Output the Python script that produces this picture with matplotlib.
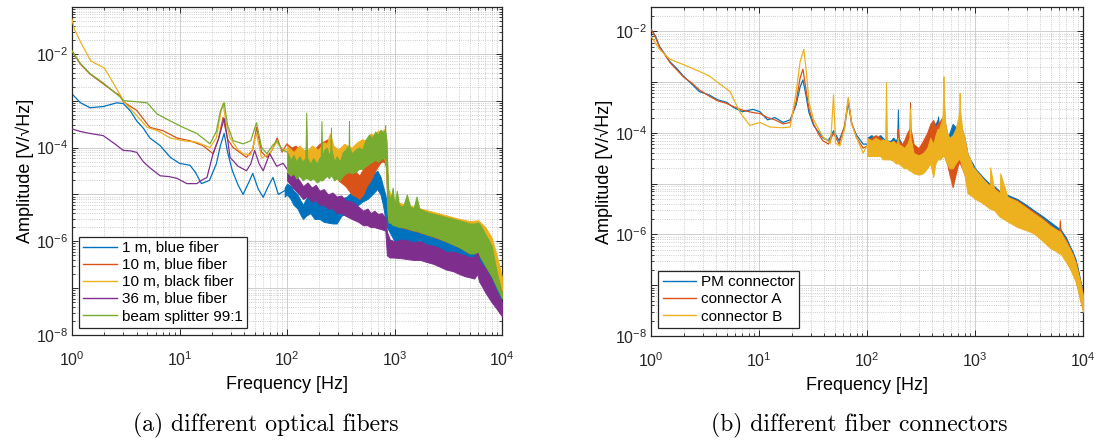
import numpy as np
import matplotlib
matplotlib.use('Agg')
import matplotlib.pyplot as plt
from matplotlib.ticker import LogLocator, FuncFormatter, NullFormatter

plt.rcParams['font.family'] = ['Liberation Sans', 'DejaVu Sans']
plt.rcParams['mathtext.fontset'] = 'custom'
plt.rcParams['mathtext.rm'] = 'Liberation Sans'
plt.rcParams['mathtext.it'] = 'Liberation Sans:italic'
plt.rcParams['mathtext.bf'] = 'Liberation Sans:bold'

# ---------------- (a) optical fibers ----------------
# below ~100 Hz each spectrum is a single trace (Hz, V/sqrt(Hz)),
# above it the noise is drawn as a band between lower and upper envelope
blue_f = [1, 1.2, 1.47, 1.95, 2.6, 3.0, 3.5, 4.0, 4.6, 5.3, 6.6, 8.2, 10, 12.5, 14, 16, 19, 22, 24, 26, 28, 31, 35, 39, 44, 48, 54, 60, 67, 74, 83, 95]
blue_amp = [1.4e-3, 9e-4, 7.1e-4, 7.5e-4, 9e-4, 8.7e-4, 6e-4, 3.7e-4, 2.6e-4, 1.6e-4, 1.1e-4, 6.2e-5, 4.6e-5, 4.2e-5, 3e-5, 1.7e-5, 2e-5, 4.5e-5, 1.1e-4, 2e-4, 8e-5, 3.2e-5, 1.6e-5, 1e-5, 1.8e-5, 2.8e-5, 1.3e-5, 8.7e-6, 1.5e-5, 2.3e-5, 1e-5, 1.2e-5]
blue_bf = [95, 100, 108, 115, 125, 135, 141, 150, 165, 180, 200, 220, 240, 265, 290, 320, 360, 410, 460, 500, 560, 620, 690, 740, 780, 820, 850, 1000, 1300, 2000, 3000, 5000, 6000, 8000, 10000]
blue_lo = [9e-6, 1e-5, 8e-6, 6e-6, 5e-6, 3.5e-6, 3e-6, 3.5e-6, 4e-6, 3e-6, 3e-6, 2.6e-6, 2.5e-6, 2.4e-6, 2.4e-6, 3.5e-6, 4e-6, 5e-6, 6e-6, 7e-6, 8e-6, 1e-5, 1.3e-5, 1e-5, 6e-6, 3e-6, 2e-6, 1e-6, 8e-7, 6e-7, 4.5e-7, 3e-7, 2.5e-7, 1.2e-7, 3e-8]
blue_hi = [1.4e-5, 1.7e-5, 1.5e-5, 1.2e-5, 1e-5, 7e-6, 6e-6, 8e-6, 1e-5, 7e-6, 8e-6, 6e-6, 6.5e-6, 5e-6, 4.6e-6, 8e-6, 9e-6, 1.2e-5, 1.4e-5, 1.8e-5, 2.2e-5, 2.6e-5, 3.2e-5, 2.4e-5, 1.5e-5, 1e-5, 6e-6, 3e-6, 2.5e-6, 1.8e-6, 1.3e-6, 9e-7, 8e-7, 4e-7, 1e-7]

orange_f = [1, 1.2, 1.47, 1.95, 2.5, 2.8, 3.0, 4.0, 5.3, 7, 9.5, 12.5, 16.5, 20.5, 23, 25.4, 28, 31.5, 36, 42, 48, 52, 58, 65, 73, 81, 90, 100]
orange_amp = [1.15e-2, 6e-3, 3.7e-3, 2.3e-3, 1.5e-3, 1.3e-3, 9.5e-4, 6.2e-4, 2.7e-4, 2.3e-4, 1.6e-4, 1.4e-4, 1.1e-4, 7.4e-5, 1.5e-4, 4.4e-4, 1.5e-4, 1e-4, 8e-5, 6.2e-5, 9e-5, 2.7e-4, 8e-5, 6.2e-5, 9e-5, 1.6e-4, 8e-5, 1.2e-4]
orange_bf = [100, 110, 120, 135, 150, 170, 200, 225, 250, 275, 300, 350, 400, 440, 470, 510, 550, 600, 650, 700, 750, 800, 830, 870, 1000, 1500, 2000, 3000, 4000, 5000, 6000, 7000, 8000, 9000, 10000]
orange_lo = [5e-5, 4e-5, 4e-5, 3.5e-5, 3e-5, 3e-5, 3e-5, 3.5e-5, 4e-5, 3e-5, 2e-5, 1.5e-5, 1e-5, 9e-6, 8e-6, 1e-5, 1.5e-5, 2e-5, 3e-5, 4e-5, 5e-5, 5e-5, 4e-5, 3e-6, 2.2e-6, 1.7e-6, 1.4e-6, 1e-6, 7.5e-7, 5.5e-7, 6e-7, 3e-7, 1.8e-7, 1.1e-7, 7e-8]
orange_hi = [1.2e-4, 1e-4, 1.1e-4, 8e-5, 9e-5, 8e-5, 1.2e-4, 1.4e-4, 1.6e-4, 9e-5, 6e-5, 5e-5, 4e-5, 3e-5, 2.5e-5, 3.5e-5, 5e-5, 7e-5, 1e-4, 1.3e-4, 1.5e-4, 1.4e-4, 1.2e-4, 1.2e-5, 6e-6, 5e-6, 4.2e-6, 3.3e-6, 2.8e-6, 2.4e-6, 2.5e-6, 1.4e-6, 8e-7, 2.5e-7, 1e-7]

yellow_f = [1, 1.05, 1.15, 1.25, 1.5, 2.0, 2.5, 3.1, 4.0, 5.0, 6.2, 8.2, 10.8, 14.5, 19.2, 22, 24, 25.4, 27, 29.5, 35, 39, 46, 52, 58, 69, 80, 92, 100]
yellow_amp = [5.5e-2, 3.4e-2, 2.2e-2, 1.5e-2, 7e-3, 5e-3, 2.1e-3, 9e-4, 4.8e-4, 2.7e-4, 2.3e-4, 1.6e-4, 1.4e-4, 1.3e-4, 1e-4, 1.6e-4, 5e-4, 8.7e-4, 3.5e-4, 1.6e-4, 9e-5, 7.4e-5, 7e-5, 2e-4, 6e-5, 7.4e-5, 1.3e-4, 8.7e-5, 9e-5]
yellow_bf = [100, 115, 130, 150, 170, 195, 220, 235, 250, 270, 300, 340, 400, 450, 500, 550, 600, 650, 700, 750, 800, 840, 870, 1000, 1500, 2000, 3000, 4000, 5000, 6000, 7000, 8000, 9000, 10000]
yellow_lo = [4e-5, 3.5e-5, 3e-5, 3e-5, 3e-5, 3e-5, 3e-5, 3.5e-5, 3.5e-5, 3e-5, 3e-5, 3e-5, 3e-5, 3.5e-5, 4e-5, 4.5e-5, 5e-5, 5.5e-5, 6e-5, 6e-5, 6e-5, 4e-5, 3e-6, 2.4e-6, 1.8e-6, 1.5e-6, 1.1e-6, 8e-7, 6e-7, 6.5e-7, 4e-7, 2.5e-7, 1.5e-7, 9e-8]
yellow_hi = [1.1e-4, 8e-5, 1.1e-4, 8e-5, 1.1e-4, 9e-5, 1.3e-4, 1.2e-4, 2e-4, 1.1e-4, 9e-5, 1.2e-4, 1e-4, 1.3e-4, 1.5e-4, 1.4e-4, 2e-4, 1.8e-4, 2.3e-4, 2.1e-4, 2.5e-4, 1.5e-4, 1.3e-5, 7e-6, 5.5e-6, 4.6e-6, 3.6e-6, 3e-6, 2.7e-6, 2.8e-6, 2e-6, 1.2e-6, 4.6e-7, 1.7e-7]

purple_f = [1, 1.2, 1.47, 1.95, 2.5, 3.0, 3.5, 4.0, 4.6, 5.3, 6.6, 8, 9.5, 11.7, 14.5, 16, 18, 20.5, 23, 26, 28, 29.5, 35, 42, 46, 50, 55, 60, 69, 80, 92, 100]
purple_amp = [2.5e-4, 2.2e-4, 2e-4, 1.8e-4, 1.2e-4, 8.7e-5, 8.5e-5, 7.9e-5, 5e-5, 3.7e-5, 2.5e-5, 2.4e-5, 2.2e-5, 1.7e-5, 1.7e-5, 2e-5, 2.3e-5, 7.4e-5, 1.5e-4, 4.2e-4, 1.5e-4, 6.2e-5, 4e-5, 3.2e-5, 4.5e-5, 8.7e-5, 4.5e-5, 3.2e-5, 7.4e-5, 4e-5, 4.6e-5, 3.5e-5]
purple_bf = [100, 110, 120, 130, 141, 155, 170, 185, 200, 220, 240, 265, 290, 320, 350, 400, 460, 510, 560, 600, 650, 700, 760, 820, 850, 900, 1000, 1200, 1500, 1730, 2000, 2300, 2700, 3000, 3500, 4000, 4500, 5000, 5500, 5900, 6100, 6500, 7000, 8000, 9000, 10000]
purple_lo = [2e-5, 1.5e-5, 1.2e-5, 1e-5, 8e-6, 9e-6, 7e-6, 7.5e-6, 6e-6, 6e-6, 5e-6, 5e-6, 4e-6, 4e-6, 3.5e-6, 3e-6, 2.6e-6, 2.2e-6, 2.2e-6, 2e-6, 2e-6, 1.9e-6, 1.8e-6, 1.7e-6, 5e-7, 4.5e-7, 4.5e-7, 4.3e-7, 4e-7, 4e-7, 3.6e-7, 3.3e-7, 2.8e-7, 2.5e-7, 2.3e-7, 2e-7, 1.8e-7, 1.7e-7, 1.6e-7, 2e-7, 1.4e-7, 1.1e-7, 8e-8, 5e-8, 3.5e-8, 2.5e-8]
purple_hi = [4e-5, 3e-5, 2.6e-5, 2e-5, 1.5e-5, 1.8e-5, 1.4e-5, 1.6e-5, 1.2e-5, 1.3e-5, 1e-5, 1.1e-5, 9e-6, 9.5e-6, 7.5e-6, 7e-6, 5.5e-6, 4.5e-6, 5e-6, 4e-6, 4.5e-6, 3.8e-6, 4e-6, 3.2e-6, 1.6e-6, 1.1e-6, 1e-6, 1.1e-6, 9.5e-7, 1e-6, 8.5e-7, 8e-7, 7e-7, 6e-7, 6e-7, 5.5e-7, 5e-7, 4.6e-7, 4.6e-7, 7e-7, 4e-7, 3.2e-7, 2.6e-7, 1.5e-7, 8e-8, 5e-8]

green_f = [1, 1.2, 1.47, 1.95, 2.5, 2.8, 3.0, 4.0, 5.0, 6.2, 8.2, 10.8, 14.5, 19.2, 22, 24, 26, 28, 31.5, 35, 39, 46, 52, 58, 65, 73, 81, 90, 100]
green_amp = [1.15e-2, 6.2e-3, 3.8e-3, 2.4e-3, 1.5e-3, 1.2e-3, 1e-3, 9.5e-4, 9e-4, 5.2e-4, 3.7e-4, 2.7e-4, 2e-4, 1.2e-4, 2.2e-4, 6e-4, 9.1e-4, 3e-4, 1.4e-4, 1.3e-4, 1.2e-4, 1.4e-4, 3.4e-4, 1e-4, 7.4e-5, 1.1e-4, 1.4e-4, 9e-5, 8e-5]
green_bf = [100, 108, 115, 122, 130, 140, 148, 151, 154, 165, 175, 190, 200, 206, 209, 212, 222, 235, 245, 253, 256, 259, 275, 290, 310, 330, 350, 374, 377, 380, 400, 430, 470, 500, 540, 580, 620, 660, 700, 740, 780, 815, 818, 821, 840, 860, 880, 920, 960, 1000, 1050, 1100, 1200, 1300, 1400, 1500, 1600, 1700, 2000, 2500, 3000, 4000, 5000, 5500, 6000, 6300, 7000, 8000, 9000, 10000]
green_lo = [3e-5, 2.5e-5, 2.8e-5, 2.2e-5, 2.5e-5, 2e-5, 2.2e-5, 2.2e-5, 2.2e-5, 2e-5, 2.2e-5, 1.8e-5, 2e-5, 2e-5, 2e-5, 2e-5, 2.2e-5, 2.5e-5, 2.2e-5, 2.5e-5, 2.5e-5, 2.5e-5, 2e-5, 2.2e-5, 2e-5, 2.5e-5, 2.8e-5, 3e-5, 3e-5, 3e-5, 2.8e-5, 3e-5, 3.5e-5, 3.5e-5, 4e-5, 4.5e-5, 5e-5, 5.5e-5, 5e-5, 5.5e-5, 6e-5, 6e-5, 6e-5, 5e-5, 3e-5, 4e-6, 2.5e-6, 2.5e-6, 2.2e-6, 2.2e-6, 2.1e-6, 2e-6, 2e-6, 1.9e-6, 1.8e-6, 1.7e-6, 1.7e-6, 1.6e-6, 1.4e-6, 1.2e-6, 1e-6, 7.5e-7, 5.5e-7, 5.5e-7, 6e-7, 4.5e-7, 3e-7, 1.8e-7, 1e-7, 6e-8]
green_hi = [8e-5, 5.5e-5, 7e-5, 5e-5, 6.5e-5, 5e-5, 6e-5, 5.6e-4, 6e-5, 4.5e-5, 6e-5, 4.5e-5, 6e-5, 6.5e-5, 3.7e-4, 6.5e-5, 9e-5, 1e-4, 6.5e-5, 9e-5, 2.7e-4, 9e-5, 5e-5, 6.5e-5, 5e-5, 8e-5, 9e-5, 1.1e-4, 3.7e-4, 1e-4, 7.5e-5, 9e-5, 1e-4, 9e-5, 1.5e-4, 1.9e-4, 1.6e-4, 2.2e-4, 1.9e-4, 2.4e-4, 2.1e-4, 2.4e-4, 3e-4, 2.3e-4, 1.4e-4, 3e-5, 1e-5, 8e-6, 1.4e-5, 6e-6, 1.2e-5, 6e-6, 5.5e-6, 1e-5, 5.5e-6, 5e-6, 9e-6, 5e-6, 4.2e-6, 3.7e-6, 3.3e-6, 2.8e-6, 2.4e-6, 2.4e-6, 2.5e-6, 2.2e-6, 1.4e-6, 8e-7, 2e-7, 8e-8]

fiber_labels = ['1 m, blue fiber', '10 m, blue fiber', '10 m, black fiber', '36 m, blue fiber', 'beam splitter 99:1']

# ---------------- (b) fiber connectors ----------------
pm_f = [1, 1.1, 1.2, 1.35, 1.5, 1.75, 2.0, 2.4, 2.8, 3.5, 4.1, 5, 5.75, 7, 8.8, 10.2, 12, 14, 16.7, 19.4, 22, 24, 25.5, 27, 29, 32, 36, 39, 44, 49, 55, 62, 67, 72, 80, 92, 100]
pm_amp = [1.1e-2, 8e-3, 5e-3, 3.5e-3, 2.5e-3, 1.8e-3, 1.3e-3, 9e-4, 6.5e-4, 5.5e-4, 4.5e-4, 4e-4, 3.2e-4, 2.6e-4, 2.9e-4, 2.6e-4, 1.8e-4, 2e-4, 1.6e-4, 1.8e-4, 3.5e-4, 8e-4, 1.1e-3, 6e-4, 2.5e-4, 1.4e-4, 1e-4, 8e-5, 7e-5, 1.1e-4, 7e-5, 1.3e-4, 4e-4, 1.5e-4, 9e-5, 6e-5, 6e-5]
conA_amp = [1.1e-2, 7.5e-3, 4.8e-3, 3.4e-3, 2.4e-3, 1.7e-3, 1.25e-3, 9.5e-4, 7e-4, 5.2e-4, 4.3e-4, 3.8e-4, 3.3e-4, 2.8e-4, 2.5e-4, 2.4e-4, 2e-4, 1.8e-4, 1.5e-4, 1.6e-4, 4e-4, 1.2e-3, 1.8e-3, 8e-4, 3e-4, 1.5e-4, 9e-5, 7e-5, 6e-5, 1e-4, 6e-5, 1.4e-4, 4.5e-4, 1.6e-4, 8e-5, 5e-5, 5.5e-5]
conB_f = [1, 1.2, 1.5, 2.0, 2.84, 3.5, 4.1, 5.4, 6.0, 6.7, 8.2, 10.2, 12.6, 16.7, 19.4, 22, 24, 26, 27.5, 29, 32, 39, 46, 49, 51, 56, 62, 67, 72, 80, 92, 100]
conB_amp = [8e-3, 4.4e-3, 2.8e-3, 2.2e-3, 1.6e-3, 1.3e-3, 1e-3, 6.5e-4, 4e-4, 2.5e-4, 1.4e-4, 1.6e-4, 1.3e-4, 1.26e-4, 1.3e-4, 6e-4, 2.5e-3, 4.4e-3, 1.5e-3, 4e-4, 1.8e-4, 8.3e-5, 6.3e-5, 5.6e-4, 6.3e-5, 5.5e-5, 1.2e-4, 5e-4, 1.5e-4, 8e-5, 4e-5, 5.5e-5]

band_f = [100, 110, 120, 132, 140, 147, 150, 153, 165, 175,
          185, 190, 193, 196, 210, 220, 235, 247, 250, 253,
          270, 300, 330, 360, 385, 410, 430, 450, 455, 460,
          480, 500, 505, 510, 515, 530, 550, 580, 620, 660,
          700, 715, 720, 725, 760, 800, 850, 900, 950, 1000,
          1100, 1200, 1300, 1370, 1380, 1500, 1700, 1710, 2000, 2450,
          3000, 3500, 4200, 4900, 5500, 6000, 6100, 6200, 7000, 7500,
          8000, 8500, 9000, 9400, 10000]
pm_lo = [4e-5, 4.5e-5, 4e-5, 4.5e-5, 4e-5, 4e-5, 4e-5, 4e-5, 3.5e-5, 3.5e-5,
         3e-5, 3.5e-5, 4e-5, 3.5e-5, 2.8e-5, 2.5e-5, 2.5e-5, 2.2e-5, 2.2e-5, 2.2e-5,
         2e-5, 2e-5, 2.2e-5, 3e-5, 3.5e-5, 4e-5, 4.5e-5, 5e-5, 5e-5, 5e-5,
         4.5e-5, 4.5e-5, 4.5e-5, 4.5e-5, 4.5e-5, 3.5e-5, 2.5e-5, 3e-5, 4e-5, 3.5e-5,
         3e-5, 3e-5, 3e-5, 3e-5, 2.5e-5, 2e-5, 1.2e-5, 1e-5, 8e-6, 7e-6,
         6e-6, 5e-6, 4.5e-6, 4e-6, 4e-6, 3.8e-6, 3e-6, 3e-6, 2.3e-6, 1.8e-6,
         1.4e-6, 1.2e-6, 9e-7, 7e-7, 6e-7, 5e-7, 5e-7, 5e-7, 3.5e-7, 2.6e-7,
         2e-7, 1.4e-7, 9e-8, 6e-8, 3.5e-8]
pm_hi = [8e-5, 9e-5, 7.5e-5, 9e-5, 8e-5, 7e-5, 8e-5, 7e-5, 7e-5, 8e-5,
         7e-5, 8e-5, 2.9e-4, 8e-5, 6e-5, 6e-5, 5.5e-5, 5e-5, 5.5e-5, 5e-5,
         5e-5, 4.5e-5, 6e-5, 9e-5, 1.3e-4, 1.6e-4, 1.5e-4, 1.8e-4, 2.1e-4, 1.6e-4,
         1.5e-4, 1.5e-4, 1.6e-4, 1.5e-4, 1.4e-4, 1.2e-4, 6e-5, 1e-4, 1.5e-4, 1.3e-4,
         1.4e-4, 1.5e-4, 1.5e-4, 1.4e-4, 1.1e-4, 8e-5, 4e-5, 3e-5, 2.5e-5, 2e-5,
         1.6e-5, 1.3e-5, 1.1e-5, 1e-5, 1e-5, 9e-6, 7e-6, 7e-6, 6e-6, 5e-6,
         3.8e-6, 3e-6, 2.3e-6, 1.8e-6, 1.5e-6, 1.3e-6, 1.3e-6, 1.25e-6, 8.5e-7, 6e-7,
         4.6e-7, 3.3e-7, 2e-7, 1.3e-7, 7e-8]
conA_lo = [3.5e-5, 4e-5, 3.5e-5, 4e-5, 3.5e-5, 3.5e-5, 3.5e-5, 3.5e-5, 3e-5, 3e-5,
           3e-5, 3e-5, 3e-5, 3e-5, 2.5e-5, 2.5e-5, 2.5e-5, 2.5e-5, 3e-5, 2.5e-5,
           2e-5, 1.8e-5, 2e-5, 3e-5, 3e-5, 3.5e-5, 3.5e-5, 4e-5, 4e-5, 4e-5,
           4e-5, 4e-5, 4e-5, 4e-5, 4e-5, 3e-5, 2.5e-5, 1.5e-5, 8.5e-6, 1.5e-5,
           2.5e-5, 2.5e-5, 2.5e-5, 2.5e-5, 2e-5, 1.5e-5, 8e-6, 7e-6, 6e-6, 5.5e-6,
           5e-6, 4e-6, 3.8e-6, 3.5e-6, 3.5e-6, 3.2e-6, 2.6e-6, 2.6e-6, 2e-6, 1.6e-6,
           1.3e-6, 1.1e-6, 8e-7, 6e-7, 5e-7, 4.5e-7, 4.5e-7, 4.5e-7, 3e-7, 2.3e-7,
           1.8e-7, 1.3e-7, 8e-8, 5.5e-8, 3.2e-8]
conA_hi = [7e-5, 8e-5, 9e-5, 8e-5, 7e-5, 7e-5, 8e-5, 7e-5, 6.5e-5, 7e-5,
           6.5e-5, 7e-5, 1.2e-4, 7e-5, 6e-5, 7e-5, 1e-4, 1.2e-4, 4e-4, 1.2e-4,
           6e-5, 5e-5, 7e-5, 1e-4, 1.5e-4, 1.8e-4, 1.3e-4, 1.5e-4, 1.6e-4, 1.5e-4,
           1.8e-4, 2e-4, 2.2e-4, 2.5e-4, 2e-4, 1.5e-4, 1e-4, 6e-5, 4e-5, 8e-5,
           1.4e-4, 1.5e-4, 1.5e-4, 1.4e-4, 1e-4, 7e-5, 3.5e-5, 2.5e-5, 2e-5, 1.8e-5,
           1.5e-5, 1.2e-5, 1e-5, 9e-6, 9e-6, 8.5e-6, 6.5e-6, 6.5e-6, 5.5e-6, 4.7e-6,
           3.5e-6, 2.8e-6, 2.1e-6, 1.6e-6, 1.3e-6, 1.2e-6, 1.9e-6, 1.15e-6, 7.5e-7, 5.5e-7,
           4.2e-7, 3e-7, 1.8e-7, 1.2e-7, 6.5e-8]
conB_lo = [3.5e-5, 3.5e-5, 3.5e-5, 3.5e-5, 3e-5, 3e-5, 3e-5, 3e-5, 3e-5, 2.8e-5,
           2.5e-5, 2.5e-5, 2.5e-5, 2.5e-5, 2.2e-5, 2e-5, 2e-5, 1.8e-5, 1.8e-5, 1.8e-5,
           1.6e-5, 1.5e-5, 1.6e-5, 2e-5, 2.5e-5, 1.35e-5, 2.5e-5, 3e-5, 3e-5, 3e-5,
           3e-5, 3.5e-5, 3.5e-5, 4e-5, 3.5e-5, 3e-5, 2.5e-5, 2e-5, 2e-5, 2.5e-5,
           3e-5, 3e-5, 3e-5, 3e-5, 2e-5, 1.5e-5, 6.5e-6, 6e-6, 5.5e-6, 5e-6,
           4.5e-6, 4e-6, 3.5e-6, 3.2e-6, 3.2e-6, 3e-6, 2.2e-6, 2.2e-6, 1.8e-6, 1.4e-6,
           1.2e-6, 1.05e-6, 7.5e-7, 5.5e-7, 4.8e-7, 4.2e-7, 4.2e-7, 4.2e-7, 2.8e-7, 2.2e-7,
           1.6e-7, 1.2e-7, 7.5e-8, 5e-8, 3e-8]
conB_hi = [8e-5, 7e-5, 8e-5, 7e-5, 7.5e-5, 7e-5, 1e-3, 7e-5, 6.5e-5, 7e-5,
           6e-5, 6.5e-5, 8e-5, 6e-5, 5.5e-5, 5e-5, 6e-5, 8e-5, 3e-4, 8e-5,
           4e-5, 3.6e-5, 4e-5, 5e-5, 8e-5, 6e-5, 9e-5, 1.2e-4, 1.2e-4, 1.1e-4,
           1.5e-4, 2e-4, 5e-4, 1.3e-3, 5e-4, 1.5e-4, 1e-4, 8e-5, 9e-5, 1.2e-4,
           2e-4, 3e-4, 6.1e-4, 3e-4, 1.2e-4, 8e-5, 4e-5, 3e-5, 2.2e-5, 1.9e-5,
           1.5e-5, 1.2e-5, 1e-5, 9e-6, 2.1e-5, 8e-6, 6.5e-6, 1.6e-5, 5.5e-6, 4.5e-6,
           3.3e-6, 2.6e-6, 2e-6, 1.5e-6, 1.3e-6, 1.15e-6, 1.15e-6, 1.1e-6, 7e-7, 5.3e-7,
           4e-7, 2.8e-7, 1.7e-7, 1.2e-7, 6e-8]

connector_labels = ['PM connector', 'connector A', 'connector B']

# MATLAB default line colors
c_blue, c_orange, c_yellow, c_purple, c_green = '#0072BD', '#D95319', '#EDB120', '#7E2F8E', '#77AC30'


def draw(ax, f, amp, bf, lo, hi, color, label, z):
    ax.plot(f, amp, color=color, lw=0.9, label=label, zorder=z)
    ax.fill_between(bf, lo, hi, facecolor=color, edgecolor=color, lw=0.7, zorder=z)


def style(ax, ylim):
    ax.set_xscale('log')
    ax.set_yscale('log')
    ax.set_xlim(1, 1e4)
    ax.set_ylim(*ylim)
    for a in (ax.xaxis, ax.yaxis):
        a.set_major_locator(LogLocator(base=10, numticks=20))
        a.set_minor_locator(LogLocator(base=10, subs=np.arange(2, 10), numticks=200))
        a.set_minor_formatter(NullFormatter())
    ax.xaxis.set_major_formatter(FuncFormatter(lambda v, p: r'$10^{%d}$' % round(np.log10(v))))
    ax.yaxis.set_major_formatter(FuncFormatter(
        lambda v, p: r'$10^{%d}$' % round(np.log10(v)) if round(np.log10(v)) % 2 == 0 else ''))
    ax.grid(True, which='major', color='#c8c8c8', lw=0.6, ls='-')
    ax.grid(True, which='minor', color='#bdbdbd', lw=0.6, ls=':')
    ax.set_axisbelow(True)
    ax.tick_params(which='both', direction='in', top=True, right=True, labelsize=11.5,
                   colors='#262626')
    ax.tick_params(axis='x', pad=11)
    ax.tick_params(axis='y', pad=3)
    ax.tick_params(which='major', length=4, width=0.7)
    ax.tick_params(which='minor', length=2, width=0.6)
    for s in ax.spines.values():
        s.set_color('#262626')
        s.set_linewidth(0.9)
    ax.set_xlabel('Frequency [Hz]', fontsize=13, labelpad=5)
    ax.set_ylabel('Amplitude [V/\u221aHz]', fontsize=13, labelpad=1)


fig = plt.figure(figsize=(11.01, 4.46), dpi=100)
ax1 = fig.add_axes([0.0654, 0.2489, 0.3906, 0.7354])
ax2 = fig.add_axes([0.5913, 0.2466, 0.3924, 0.7377])

draw(ax1, blue_f, blue_amp, blue_bf, blue_lo, blue_hi, c_blue, fiber_labels[0], 2)
draw(ax1, orange_f, orange_amp, orange_bf, orange_lo, orange_hi, c_orange, fiber_labels[1], 3)
draw(ax1, yellow_f, yellow_amp, yellow_bf, yellow_lo, yellow_hi, c_yellow, fiber_labels[2], 4)
draw(ax1, purple_f, purple_amp, purple_bf, purple_lo, purple_hi, c_purple, fiber_labels[3], 5)
draw(ax1, green_f, green_amp, green_bf, green_lo, green_hi, c_green, fiber_labels[4], 6)
style(ax1, (1e-8, 1e-1))

draw(ax2, pm_f, pm_amp, band_f, pm_lo, pm_hi, c_blue, connector_labels[0], 2)
draw(ax2, pm_f, conA_amp, band_f, conA_lo, conA_hi, c_orange, connector_labels[1], 3)
draw(ax2, conB_f, conB_amp, band_f, conB_lo, conB_hi, c_yellow, connector_labels[2], 4)
style(ax2, (1e-8, 3e-2))

for ax, anchor in ((ax1, (0.016, 0.021)), (ax2, (0.016, 0.024))):
    leg = ax.legend(loc='lower left', bbox_to_anchor=anchor, borderaxespad=0, fontsize=11,
                    fancybox=False, framealpha=1, edgecolor='#262626', handlelength=2.2,
                    handletextpad=0.3, labelspacing=0.2, borderpad=0.3)
    leg.get_frame().set_linewidth(0.9)
    for line in leg.get_lines():
        line.set_linewidth(1.0)

fig.text(0.241, 0.045, '(a) different optical fibers', family='cmr10', fontsize=17, ha='center', va='center')
fig.text(0.780, 0.045, '(b) different fiber connectors', family='cmr10', fontsize=17, ha='center', va='center')

fig.savefig('out.png', dpi=100)
